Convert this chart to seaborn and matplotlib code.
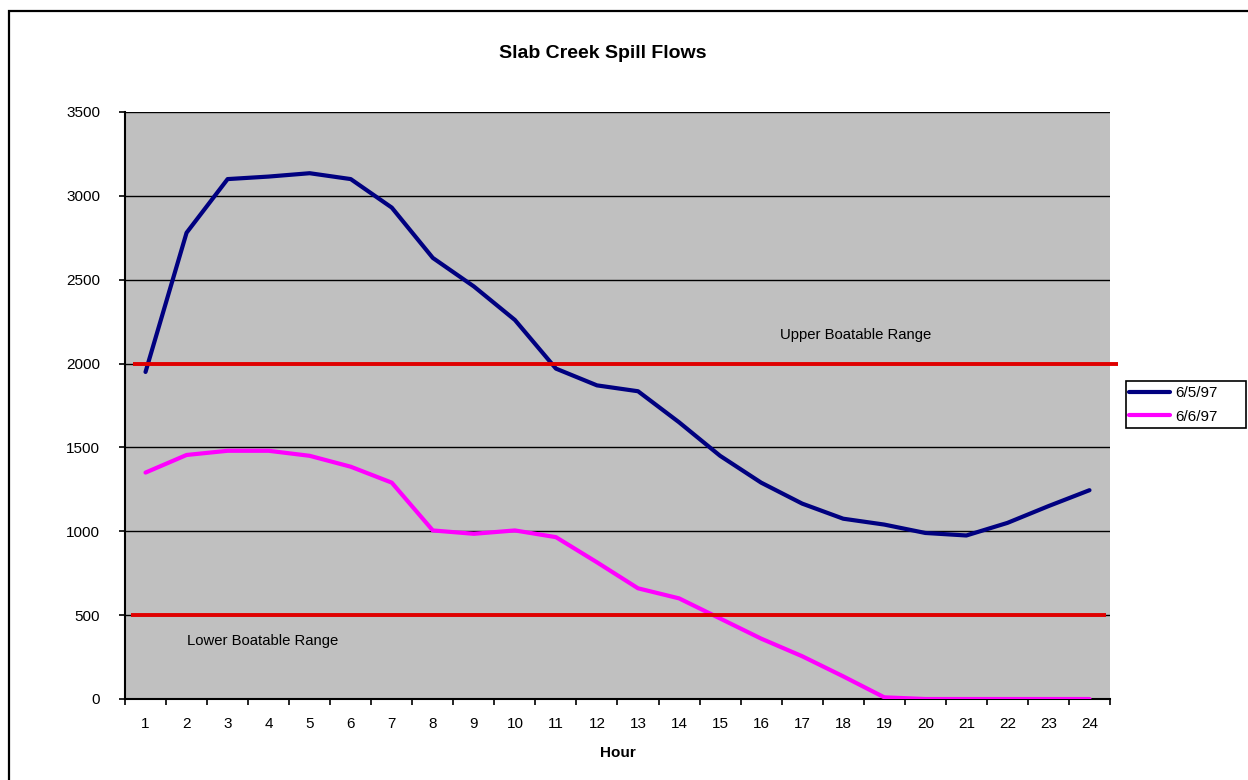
import matplotlib
matplotlib.use("Agg")
import matplotlib.pyplot as plt
import matplotlib.patches as mpatches
from matplotlib.lines import Line2D
from matplotlib.ticker import FixedLocator, NullFormatter
import numpy as np
import pandas as pd
import seaborn as sns

# Hourly spill flows (cfs)
hours = list(range(1, 25))
flow_jun5 = [1950, 2780, 3100, 3115, 3135, 3100, 2930, 2630, 2460, 2260, 1970, 1870,
             1835, 1650, 1450, 1290, 1165, 1075, 1040, 990, 975, 1050, 1150, 1245]
flow_jun6 = [1350, 1455, 1480, 1480, 1450, 1385, 1290, 1005, 985, 1005, 965, 815,
             660, 600, 480, 360, 255, 135, 10, 0, 0, 0, 0, 0]
series_labels = ["6/5/97", "6/6/97"]
upper_range = 2000
lower_range = 500
y_ticks = [0, 500, 1000, 1500, 2000, 2500, 3000, 3500]

df = pd.DataFrame({
    "Hour": hours * 2,
    "Flow": flow_jun5 + flow_jun6,
    "Date": [series_labels[0]] * len(hours) + [series_labels[1]] * len(hours),
})

sns.set_style("white")
plt.rcParams["font.family"] = ["Liberation Sans", "DejaVu Sans"]
plt.rcParams["text.color"] = "black"
plt.rcParams["xtick.color"] = "black"
plt.rcParams["ytick.color"] = "black"
plt.rcParams["axes.labelcolor"] = "black"

fig = plt.figure(figsize=(12.48, 7.8), dpi=100)
ax = fig.add_axes([125 / 1248, 1 - 699 / 780, (1110 - 125) / 1248, (699 - 112) / 780])
ax.set_facecolor("#c0c0c0")

# outer chart frame
fig.patches.append(mpatches.Rectangle((9 / 1248, -0.05), 1.2, 1 - 11 / 780 + 0.05,
                                      transform=fig.transFigure, fill=False,
                                      edgecolor="black", linewidth=1.6))

# horizontal gridlines
for v in y_ticks[1:]:
    ax.axhline(v, color="black", linewidth=1.0, zorder=1)

sns.lineplot(data=df, x="Hour", y="Flow", hue="Date",
             palette=["#000080", "#ff00ff"], linewidth=3.0, ax=ax,
             legend=False, zorder=3)

# boatable range limits
ax.plot([0.7, 24.7], [upper_range, upper_range], color="#e00000", linewidth=2.8,
        clip_on=False, zorder=4, solid_capstyle="butt")
ax.plot([0.65, 24.4], [lower_range, lower_range], color="#e00000", linewidth=2.8,
        zorder=4, solid_capstyle="butt")
ax.text(18.3, 2170, "Upper Boatable Range", ha="center", va="center", fontsize=10.7)
ax.text(3.85, 346, "Lower Boatable Range", ha="center", va="center", fontsize=10.7)

ax.set_xlim(0.5, 24.5)
ax.set_ylim(0, 3500)
ax.set_yticks(y_ticks)
ax.set_yticklabels([str(v) for v in y_ticks], fontsize=11)

# category axis: ticks at boundaries, labels at centers
ax.xaxis.set_major_locator(FixedLocator(np.arange(0.5, 25, 1.0)))
ax.xaxis.set_major_formatter(NullFormatter())
ax.xaxis.set_minor_locator(FixedLocator(hours))
ax.set_xticklabels([str(h) for h in hours], minor=True, fontsize=11)
ax.tick_params(axis="x", which="major", direction="out", length=4, width=1.2, color="black")
ax.tick_params(axis="x", which="minor", length=0, pad=13)
ax.tick_params(axis="y", direction="out", length=4, width=1.2, color="black", pad=14)
ax.tick_params(left=True, bottom=True)

for side in ["top", "right"]:
    ax.spines[side].set_visible(False)
for side in ["left", "bottom"]:
    ax.spines[side].set_color("black")
    ax.spines[side].set_linewidth(1.5)

ax.set_xlabel("Hour", fontsize=11, fontweight="bold", labelpad=10.5)
ax.set_ylabel("")
fig.text(603 / 1248, 1 - 53 / 780, "Slab Creek Spill Flows", ha="center", va="center",
         fontsize=14, fontweight="bold")

# legend with a fixed-size box
handles = [Line2D([], [], color="#000080", linewidth=3),
           Line2D([], [], color="#ff00ff", linewidth=3)]
leg = fig.legend(handles, series_labels, loc="center left",
                 bbox_to_anchor=(1126 / 1248, 1 - 405 / 780), frameon=False,
                 fontsize=11, handlelength=2.7, handletextpad=0.3,
                 borderpad=0.2, borderaxespad=0, labelspacing=0.62)
fig.patches.append(mpatches.Rectangle((1126 / 1248, 1 - 428 / 780), 120 / 1248, 47 / 780,
                                      transform=fig.transFigure, fill=False,
                                      edgecolor="black", linewidth=1.2))

fig.savefig("out.png", dpi=100, facecolor="white")
